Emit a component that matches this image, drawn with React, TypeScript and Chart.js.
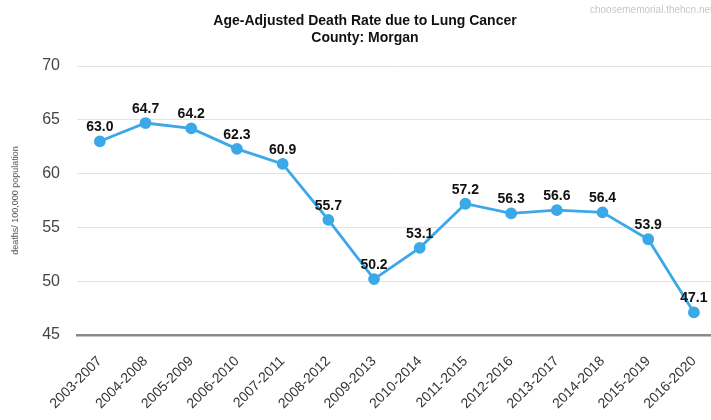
import React, { useEffect, useRef } from "react";
import { Chart, registerables } from "chart.js";

Chart.register(...registerables);

const categories: string[] = [
  "2003-2007", "2004-2008", "2005-2009", "2006-2010", "2007-2011", "2008-2012", "2009-2013",
  "2010-2014", "2011-2015", "2012-2016", "2013-2017", "2014-2018", "2015-2019", "2016-2020",
];
const deathRates: number[] = [63.0, 64.7, 64.2, 62.3, 60.9, 55.7, 50.2, 53.1, 57.2, 56.3, 56.6, 56.4, 53.9, 47.1];
const titleLines: string[] = ["Age-Adjusted Death Rate due to Lung Cancer", "County: Morgan"];
const yAxisTitle = "deaths/ 100,000 population";
const watermark = "choosememorial.thehcn.net";
const yMin = 45;
const yMax = 70;
const yStep = 5;

const FONT = "'Liberation Sans', Arial, sans-serif";
const LINE_COLOR = "#3ba8e8";

export default function App() {
  const canvasRef = useRef<HTMLCanvasElement | null>(null);

  useEffect(() => {
    document.body.style.margin = "0";
    const canvas = canvasRef.current;
    if (!canvas) return;

    const decorPlugin = {
      id: "decor",
      afterDraw(chart: any) {
        const ctx = chart.ctx;
        ctx.save();
        // title
        ctx.fillStyle = "#111";
        ctx.font = `bold 14px ${FONT}`;
        ctx.textAlign = "center";
        ctx.textBaseline = "middle";
        ctx.fillText(titleLines[0], 365, 21);
        ctx.fillText(titleLines[1], 365, 38);
        // watermark
        ctx.fillStyle = "#c8c8c8";
        ctx.font = `10px ${FONT}`;
        ctx.textAlign = "left";
        ctx.fillText(watermark, 590, 10);
        // data labels
        const meta = chart.getDatasetMeta(0);
        ctx.fillStyle = "#111";
        ctx.font = `bold 14px ${FONT}`;
        ctx.textAlign = "center";
        ctx.textBaseline = "middle";
        meta.data.forEach((pt: any, i: number) => {
          ctx.fillText(deathRates[i].toFixed(1), pt.x, pt.y - 14);
        });
        ctx.restore();
      },
    };

    const chart = new Chart(canvas, {
      type: "line",
      data: {
        datasets: [
          {
            data: deathRates.map((v, i) => ({ x: i, y: v })),
            borderColor: LINE_COLOR,
            backgroundColor: LINE_COLOR,
            borderWidth: 2.8,
            pointRadius: 4.5,
            pointBackgroundColor: LINE_COLOR,
            pointBorderColor: LINE_COLOR,
            tension: 0,
          },
        ],
      },
      options: {
        animation: false,
        responsive: false,
        layout: { padding: { top: 66, right: 0, left: 0, bottom: 0 } },
        plugins: {
          legend: { display: false },
          title: { display: false },
          tooltip: { enabled: false },
        },
        scales: {
          x: {
            type: "linear",
            min: -0.5,
            max: 13.4,
            afterBuildTicks: (scale: any) => {
              scale.ticks = categories.map((_, i) => ({ value: i }));
            },
            afterFit: (scale: any) => {
              scale.height = 85;
            },
            grid: { display: false, drawTicks: false },
            border: { display: true, color: "#8a8a8a", width: 2.5 },
            ticks: {
              autoSkip: false,
              minRotation: 45,
              maxRotation: 45,
              padding: 18,
              color: "#333",
              font: { family: FONT, size: 14 },
              callback: (v: any) => categories[Math.round(Number(v))] ?? "",
            },
          },
          y: {
            min: yMin,
            max: yMax,
            afterFit: (scale: any) => {
              scale.width = 77;
            },
            grid: { color: "#e2e2e2", lineWidth: 1, drawTicks: false },
            border: { display: false },
            ticks: {
              stepSize: yStep,
              padding: 17,
              color: "#444",
              font: { family: FONT, size: 16 },
            },
            title: {
              display: true,
              text: yAxisTitle,
              color: "#555",
              font: { family: FONT, size: 9 },
              padding: { top: 10, bottom: 0 },
            },
          },
        },
      },
      plugins: [decorPlugin],
    });

    return () => chart.destroy();
  }, []);

  return (
    <div style={{ position: "fixed", left: 0, top: 0, width: 711, height: 420, overflow: "hidden", background: "#fff" }}>
      <canvas ref={canvasRef} width={724} height={420} style={{ display: "block" }} />
    </div>
  );
}
